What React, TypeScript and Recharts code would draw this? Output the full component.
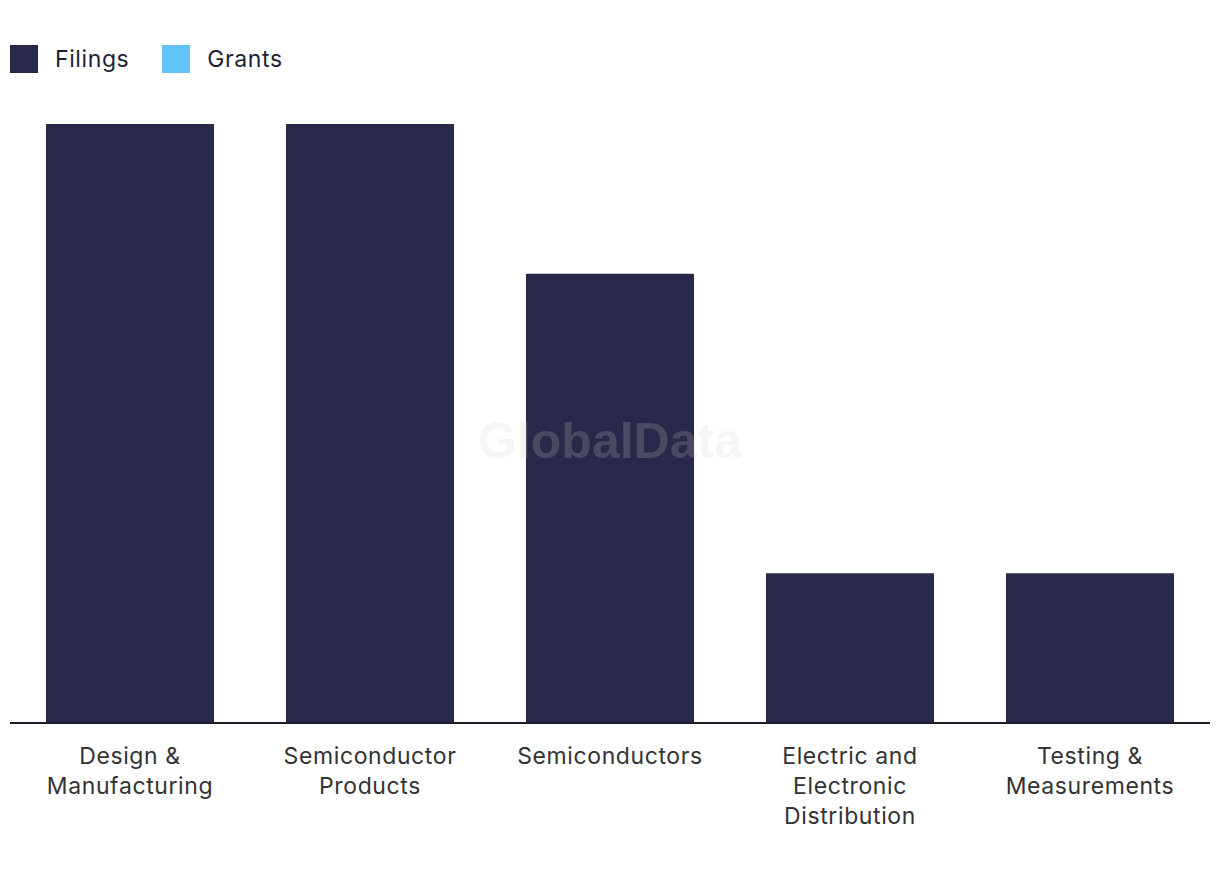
import React from "react"
import { Bar, BarChart, Legend, XAxis, YAxis } from "recharts"

// data
const categories = [
  "Design &\nManufacturing",
  "Semiconductor\nProducts",
  "Semiconductors",
  "Electric and\nElectronic\nDistribution",
  "Testing &\nMeasurements",
]
const filings = [4, 4, 3, 1, 1]
const seriesNames = ["Filings", "Grants"]
const seriesColors = ["#28284a", "#62c3f9"]

const rows = categories.map((name, i) => ({ name, filings: filings[i] }))

const FONT = "Inter, 'Noto Sans', sans-serif"

function CategoryTick(props: any) {
  const { x, y, payload } = props
  const lines = String(payload.value).split("\n")
  return (
    <text
      x={x}
      y={y}
      textAnchor="middle"
      fill="#333333"
      fontSize={23}
      letterSpacing={0.6}
      fontFamily={FONT}
    >
      {lines.map((line, i) => (
        <tspan key={i} x={x} dy={i === 0 ? 33 : 30}>
          {line}
        </tspan>
      ))}
    </text>
  )
}

function TopLegend() {
  return (
    <div
      style={{
        display: "flex",
        alignItems: "center",
        fontFamily: FONT,
        fontSize: 23,
        letterSpacing: 0.6,
        color: "#1f1f33",
      }}
    >
      {seriesNames.map((name, i) => (
        <div key={name} style={{ display: "flex", alignItems: "center", marginRight: 33 }}>
          <span style={{ width: 28, height: 28, background: seriesColors[i], display: "inline-block", marginRight: 17 }} />
          <span>{name}</span>
        </div>
      ))}
    </div>
  )
}

export default function App() {
  return (
    <div style={{ position: "absolute", left: 0, top: 0, width: 1220, height: 880, background: "#fff" }}>
      <BarChart
        width={1220}
        height={880}
        data={rows}
        margin={{ top: 96, right: 10, left: 10, bottom: 37 }}
        barCategoryGap="15%"
      >
        <Legend
          content={<TopLegend />}
          verticalAlign="top"
          align="left"
          wrapperStyle={{ position: "absolute", top: 45, left: 10, width: "auto", height: 28 }}
        />
        <XAxis
          dataKey="name"
          interval={0}
          tickLine={false}
          axisLine={{ stroke: "#1c1c2c", strokeWidth: 2 }}
          height={120}
          tick={<CategoryTick />}
        />
        <YAxis hide domain={[0, 4]} />
        <Bar dataKey="filings" name="Filings" fill={seriesColors[0]} isAnimationActive={false} />
      </BarChart>
      <div
        style={{
          position: "absolute",
          left: 0,
          width: 1220,
          top: 412,
          textAlign: "center",
          fontFamily: "'Liberation Sans', Arial, sans-serif",
          fontWeight: "bold",
          fontSize: 50,
          color: "rgba(204,204,204,0.2)",
          pointerEvents: "none",
        }}
      >
        GlobalData
      </div>
    </div>
  )
}
